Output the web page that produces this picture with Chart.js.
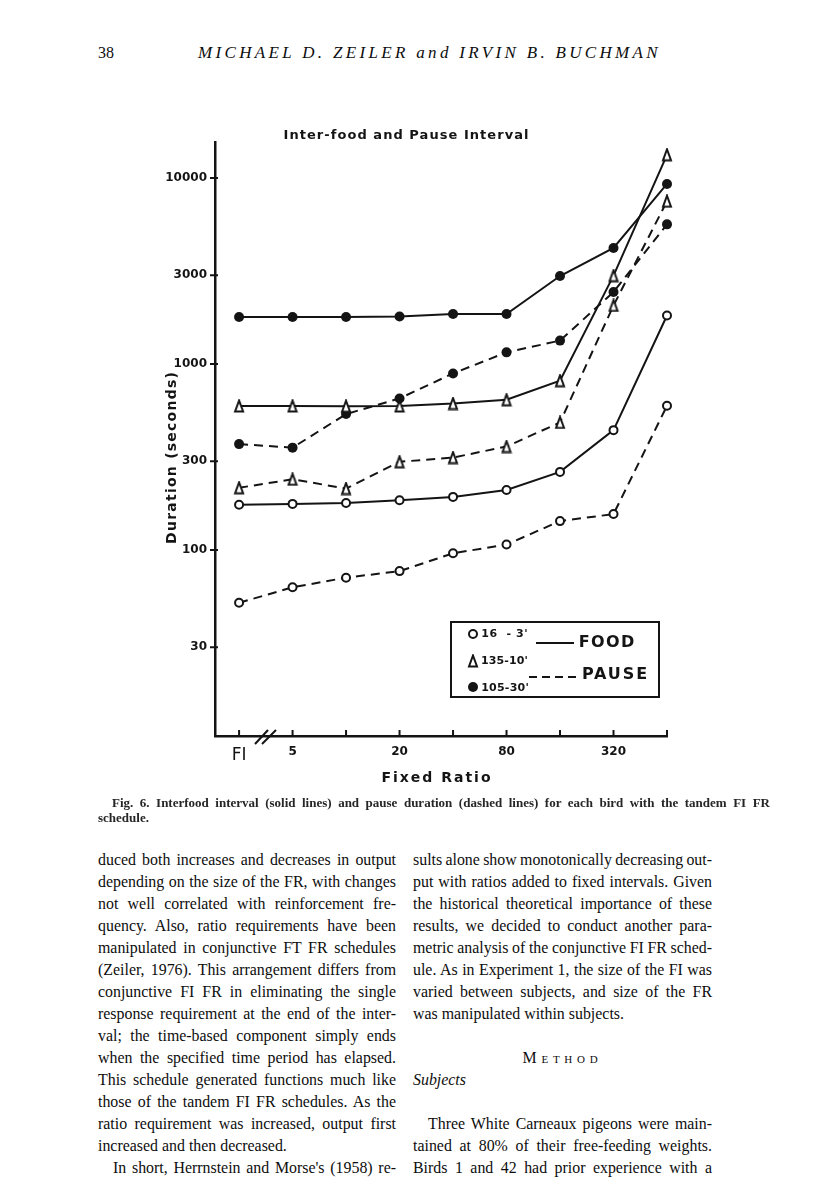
<!DOCTYPE html>
<html>
<head>
<meta charset="utf-8">
<script src="https://cdn.jsdelivr.net/npm/chart.js@4.4.1/dist/chart.umd.min.js"></script>
<style>
  html, body { margin: 0; padding: 0; background: #fff; }
  #page { position: relative; width: 816px; height: 1200px; overflow: hidden; color: #0d0d0d;
          font-family: "Liberation Serif", "Times New Roman", serif; }
  .ln { position: absolute; white-space: nowrap; }
  .body { font-size: 15.9px; line-height: 22px; }
  .cap { font-size: 13px; line-height: 16px; font-weight: bold; color: #262626; }
  #chartBox { position: absolute; left: 0; top: 100px; width: 816px; height: 700px; }
</style>
</head>
<body>
<div id="page">
  <div class="ln" id="folio" style="left:98px; top:43px; font-size:16px; line-height:20px;">38</div>
  <div class="ln" id="runhead" style="left:198px; top:43px; font-size:17px; line-height:20px; font-style:italic;">MICHAEL D. ZEILER and IRVIN B. BUCHMAN</div>
  <div id="chartBox"><canvas id="fig6" width="816" height="700"></canvas></div>
</div>

<script>
// x categories (fixed-ratio size) and the labels printed under the axis
const ratioLabels = ["FI", "5", "10", "20", "40", "80", "160", "320", "640"];
const tickText = ["FI", "5", "", "20", "", "80", "", "320", ""];
const durationTicks = [30, 100, 300, 1000, 3000, 10000];

// durations in seconds
const food16 = [175, 177, 179, 185, 193, 210, 263, 441, 1823];
const pause16 = [52, 63, 71, 77, 96, 107, 143, 156, 596];
const food135 = [595, 595, 593, 595, 613, 642, 813, 2985, 13330];
const pause135 = [216, 240, 214, 298, 314, 360, 485, 2064, 7505];
const food105 = [1790, 1790, 1790, 1800, 1857, 1857, 2972, 4204, 9290];
const pause105 = [371, 355, 538, 653, 890, 1155, 1336, 2438, 5633];

const ink = "#141414";

function makeDelta() {
  const c = document.createElement("canvas");
  c.width = 12; c.height = 14;
  const g = c.getContext("2d");
  g.lineWidth = 2; g.strokeStyle = ink; g.fillStyle = "#fff";
  g.beginPath(); g.moveTo(6, 1.5); g.lineTo(10, 12.5); g.lineTo(2, 12.5); g.closePath();
  g.fill(); g.stroke();
  return c;
}
const delta = makeDelta();

function series(values, marker, dashed) {
  const ds = {
    data: values.map((v, i) => ({ x: i, y: v })),
    borderColor: ink, borderWidth: 2, borderDash: dashed ? [9, 6] : [],
    tension: 0, clip: false,
    pointBorderColor: ink, pointBorderWidth: 2, pointRadius: 4
  };
  if (marker === "open") { ds.pointStyle = "circle"; ds.pointBackgroundColor = "#fff"; }
  if (marker === "filled") { ds.pointStyle = "circle"; ds.pointBackgroundColor = ink; ds.pointRadius = 5; ds.pointBorderWidth = 0; }
  if (marker === "delta") { ds.pointStyle = delta; }
  return ds;
}

function spaced(ctx, text, cx, cy, width, font) {
  ctx.font = font;
  ctx.letterSpacing = "0px";
  const w0 = ctx.measureText(text).width;
  const ls = (width - w0) / text.length;
  ctx.letterSpacing = ls + "px";
  ctx.textAlign = "center"; ctx.textBaseline = "middle";
  ctx.fillText(text, cx + ls / 2, cy);
  ctx.letterSpacing = "0px";
}
function spacedLeft(ctx, text, x, cy, width, font) {
  spaced(ctx, text, x + width / 2, cy, width, font);
}
function seg(ctx, x1, y1, x2, y2) {
  ctx.beginPath(); ctx.moveTo(x1, y1); ctx.lineTo(x2, y2); ctx.stroke();
}

const figInk = {
  id: "figInk",
  afterDraw(chart) {
    const { ctx, chartArea: a, scales: { x, y } } = chart;
    ctx.save();
    ctx.strokeStyle = ink; ctx.fillStyle = ink; ctx.lineWidth = 2;

    // tick marks
    durationTicks.forEach(v => {
      const py = y.getPixelForValue(v);
      seg(ctx, a.left - 5, py, a.left + 3, py);
    });
    ratioLabels.forEach((_, i) => {
      const px = x.getPixelForValue(i);
      seg(ctx, px, a.bottom, px, a.bottom - 6);
    });

    // axis break
    seg(ctx, 255, 644, 268, 630);
    seg(ctx, 262, 644, 276, 630);

    // titles
    spaced(ctx, "Inter-food and Pause Interval", 406, 36, 246, "bold 13px 'DejaVu Sans'");
    spaced(ctx, "Fixed Ratio", 436, 678, 111, "bold 14px 'DejaVu Sans'");
    ctx.save();
    ctx.translate(172, 358);
    ctx.rotate(-Math.PI / 2);
    spaced(ctx, "Duration (seconds)", 0, 0, 173, "bold 14px 'DejaVu Sans'");
    ctx.restore();

    // legend box
    ctx.lineWidth = 2;
    ctx.strokeRect(451, 522, 208, 75);
    ctx.fillStyle = "#fff";
    ctx.beginPath(); ctx.arc(473, 534, 4, 0, Math.PI * 2); ctx.fill(); ctx.stroke();
    ctx.drawImage(delta, 467, 554);
    ctx.fillStyle = ink;
    ctx.beginPath(); ctx.arc(473, 587, 5, 0, Math.PI * 2); ctx.fill();
    spacedLeft(ctx, "16  - 3'", 481, 534, 47, "bold 11px 'DejaVu Sans'");
    spacedLeft(ctx, "135-10'", 481, 561, 47, "bold 11px 'DejaVu Sans'");
    spacedLeft(ctx, "105-30'", 481, 588, 48, "bold 11px 'DejaVu Sans'");
    seg(ctx, 536, 543, 574, 543);
    ctx.setLineDash([8, 5]);
    seg(ctx, 529, 577, 578, 577);
    ctx.setLineDash([]);
    spacedLeft(ctx, "FOOD", 578, 543, 57, "bold 16px 'DejaVu Sans'");
    spacedLeft(ctx, "PAUSE", 581, 575, 67, "bold 16px 'DejaVu Sans'");
    ctx.restore();
  }
};

new Chart(document.getElementById("fig6"), {
  type: "line",
  data: {
    datasets: [
      series(food16, "open", false),
      series(pause16, "open", true),
      series(food135, "delta", false),
      series(pause135, "delta", true),
      series(food105, "filled", false),
      series(pause105, "filled", true)
    ]
  },
  options: {
    responsive: false,
    animation: false,
    devicePixelRatio: 1,
    layout: { padding: { top: 42, right: 149, bottom: 0, left: 0 } },
    plugins: { legend: { display: false }, tooltip: { enabled: false }, title: { display: false } },
    scales: {
      x: {
        type: "linear", min: -0.45, max: 8,
        grid: { display: true, drawOnChartArea: false, drawTicks: false },
        border: { display: true, color: ink, width: 2.5 },
        afterBuildTicks: s => { s.ticks = ratioLabels.map((_, i) => ({ value: i })); },
        afterFit: s => { s.height = 64; },
        ticks: {
          autoSkip: false, maxRotation: 0, padding: 9, color: ink,
          callback: v => tickText[v],
          font: c => c.index === 0
            ? { family: "DejaVu Sans", size: 17 }
            : { family: "DejaVu Sans", size: 12, weight: "bold" }
        }
      },
      y: {
        type: "logarithmic", min: 10, max: 15616,
        grid: { display: true, drawOnChartArea: false, drawTicks: false },
        border: { display: true, color: ink, width: 2.5 },
        afterBuildTicks: s => { s.ticks = durationTicks.map(v => ({ value: v })); },
        afterFit: s => { s.width = 215; },
        ticks: {
          padding: 8, color: ink,
          callback: v => String(v),
          font: { family: "DejaVu Sans", size: 12, weight: "bold" }
        }
      }
    }
  },
  plugins: [figInk]
});

// page text
const leftCol = [
  ["duced both increases and decreases in output", 0, 1],
  ["depending on the size of the FR, with changes", 0, 1],
  ["not well correlated with reinforcement fre-", 0, 1],
  ["quency. Also, ratio requirements have been", 0, 1],
  ["manipulated in conjunctive FT FR schedules", 0, 1],
  ["(Zeiler, 1976). This arrangement differs from", 0, 1],
  ["conjunctive FI FR in eliminating the single", 0, 1],
  ["response requirement at the end of the inter-", 0, 1],
  ["val; the time-based component simply ends", 0, 1],
  ["when the specified time period has elapsed.", 0, 1],
  ["This schedule generated functions much like", 0, 1],
  ["those of the tandem FI FR schedules. As the", 0, 1],
  ["ratio requirement was increased, output first", 0, 1],
  ["increased and then decreased.", 0, 0],
  ["In short, Herrnstein and Morse's (1958) re-", 15, 1]
];
const rightCol = [
  ["sults alone show monotonically decreasing out-", 0, 1],
  ["put with ratios added to fixed intervals. Given", 0, 1],
  ["the historical theoretical importance of these", 0, 1],
  ["results, we decided to conduct another para-", 0, 1],
  ["metric analysis of the conjunctive FI FR sched-", 0, 1],
  ["ule. As in Experiment 1, the size of the FI was", 0, 1],
  ["varied between subjects, and size of the FR", 0, 1],
  ["was manipulated within subjects.", 0, 0],
  null,
  ["Method", 0, "head"],
  ["Subjects", 0, "ital"],
  null,
  ["Three White Carneaux pigeons were main-", 15, 1],
  ["tained at 80% of their free-feeding weights.", 0, 1],
  ["Birds 1 and 42 had prior experience with a", 0, 1]
];

const page = document.getElementById("page");
function addLine(text, left, top, cls) {
  const el = document.createElement("div");
  el.className = "ln " + cls;
  el.style.left = left + "px";
  el.style.top = top + "px";
  el.textContent = text;
  page.appendChild(el);
  return el;
}
function fitWords(el, width) {
  const w0 = el.getBoundingClientRect().width;
  const gaps = (el.textContent.match(/ /g) || []).length;
  if (gaps) el.style.wordSpacing = ((width - w0) / gaps) + "px";
}
function fitLetters(el, width) {
  const w0 = el.getBoundingClientRect().width;
  el.style.letterSpacing = ((width - w0) / el.textContent.length) + "px";
}

function layoutColumn(lines, x, w) {
  lines.forEach((ln, k) => {
    if (!ln) return;
    const [text, indent, mode] = ln;
    const top = 849 + 22 * k;
    if (mode === "head") {
      const el = addLine(text, 0, top, "body");
      el.style.fontVariant = "small-caps";
      fitLetters(el, 80);
      el.style.left = (x + w / 2 - 40) + "px";
      return;
    }
    const el = addLine(text, x + indent, top, "body");
    if (mode === "ital") el.style.fontStyle = "italic";
    if (mode === 1) fitWords(el, w - indent);
  });
}

function layoutPage() {
  fitLetters(document.getElementById("runhead"), 463);
  const c1 = addLine("Fig. 6. Interfood interval (solid lines) and pause duration (dashed lines) for each bird with the tandem FI FR", 112, 795, "cap");
  fitWords(c1, 658);
  addLine("schedule.", 98, 810, "cap");
  layoutColumn(leftCol, 98, 298);
  layoutColumn(rightCol, 413, 299);
}
if (document.fonts && document.fonts.ready) document.fonts.ready.then(layoutPage); else layoutPage();
</script>
</body>
</html>
